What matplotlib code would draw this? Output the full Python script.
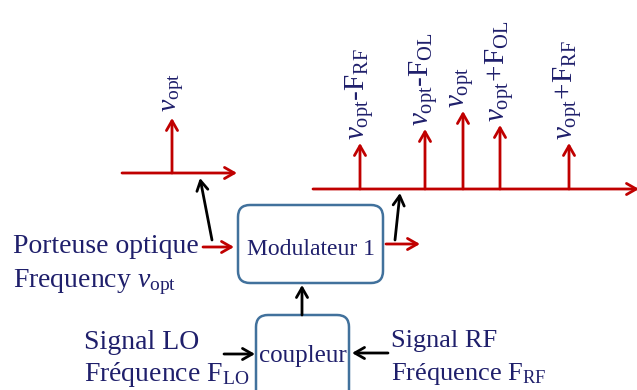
import matplotlib
matplotlib.use("Agg")
import matplotlib.pyplot as plt
from matplotlib.patches import FancyBboxPatch

plt.rcParams["font.family"] = ["Liberation Serif", "DejaVu Serif"]
plt.rcParams["mathtext.fontset"] = "custom"
plt.rcParams["mathtext.rm"] = "Liberation Serif"
plt.rcParams["mathtext.it"] = "Liberation Serif:italic"
plt.rcParams["mathtext.bf"] = "Liberation Serif:bold"

RED = "#c00000"
NAVY = "#1f1f6b"
BLUE = "#41719c"

# carrier spectrum (before modulation)
carrier_x = 172
carrier_top = 118
carrier_base = 173
carrier_label = r"$\nu_{\mathrm{opt}}$"

# spectrum after modulation
peak_x = [360, 425, 463, 500, 569]
peak_top = [143, 129, 111, 125, 143]
peak_base = 189
peak_labels = [
    r"$\nu_{\mathrm{opt}}$-$\mathrm{F}_{\mathrm{RF}}$",
    r"$\nu_{\mathrm{opt}}$-$\mathrm{F}_{\mathrm{OL}}$",
    r"$\nu_{\mathrm{opt}}$",
    r"$\nu_{\mathrm{opt}}\!+\!\mathrm{F}_{\mathrm{OL}}$",
    r"$\nu_{\mathrm{opt}}\!+\!\mathrm{F}_{\mathrm{RF}}$",
]

fig = plt.figure(figsize=(6.37, 3.90), dpi=100)
ax = fig.add_axes([0, 0, 1, 1])
ax.set_xlim(0, 637)
ax.set_ylim(390, 0)
ax.axis("off")


def arrow(tail, tip, color, lw=2.0):
    ax.annotate("", xy=tip, xytext=tail, annotation_clip=False,
                arrowprops=dict(arrowstyle="->,head_length=0.7,head_width=0.4",
                                color=color, lw=lw, shrinkA=0, shrinkB=0,
                                mutation_scale=10))


# left spectrum
arrow((122, carrier_base), (237, carrier_base), RED)
arrow((carrier_x, carrier_base), (carrier_x, carrier_top), RED)
ax.text(carrier_x + 2, carrier_top - 6, carrier_label, rotation=90,
        ha="center", va="bottom", fontsize=20, color=NAVY)

# right spectrum
arrow((313, peak_base), (639, peak_base), RED)
for x, top, lab in zip(peak_x, peak_top, peak_labels):
    arrow((x, peak_base), (x, top), RED)
    ax.text(x - 1, top - 3, lab, rotation=90, ha="center", va="bottom",
            fontsize=21, color=NAVY)

# boxes
ax.add_patch(FancyBboxPatch((238, 205), 145, 78,
                            boxstyle="round,pad=0,rounding_size=12",
                            fc="white", ec=BLUE, lw=1.8))
ax.text(311, 255, "Modulateur 1", ha="center", va="baseline",
        fontsize=17, color=NAVY)

ax.add_patch(FancyBboxPatch((256, 315), 93, 100,
                            boxstyle="round,pad=0,rounding_size=12",
                            fc="white", ec=BLUE, lw=1.8))
ax.text(303, 362, "coupleur", ha="center", va="baseline",
        fontsize=18, color=NAVY)

# optical input
arrow((203, 247), (234, 247), RED)
ax.text(13, 253, "Porteuse optique", ha="left", va="baseline",
        fontsize=20, color=NAVY)
ax.text(13, 287, r"Frequency $\nu_{\mathrm{opt}}$", ha="left", va="baseline",
        fontsize=20, color=NAVY)
arrow((212, 240), (200, 178), "black")

# modulator output
arrow((386, 244), (420, 244), RED)
arrow((395, 240), (400, 193), "black")

# coupler -> modulator
arrow((302, 315), (302, 285), "black")

# LO input
arrow((224, 354), (255, 354), "black")
ax.text(84, 349, "Signal LO", ha="left", va="baseline",
        fontsize=20, color=NAVY)
ax.text(84, 381, r"Fréquence $\mathrm{F}_{\mathrm{LO}}$", ha="left",
        va="baseline", fontsize=20, color=NAVY)

# RF input
arrow((388, 353), (352, 353), "black")
ax.text(391, 347, "Signal RF", ha="left", va="baseline",
        fontsize=19, color=NAVY)
ax.text(391, 380, r"Fréquence $\mathrm{F}_{\mathrm{RF}}$", ha="left",
        va="baseline", fontsize=19, color=NAVY)

fig.savefig("out.png", dpi=100)
